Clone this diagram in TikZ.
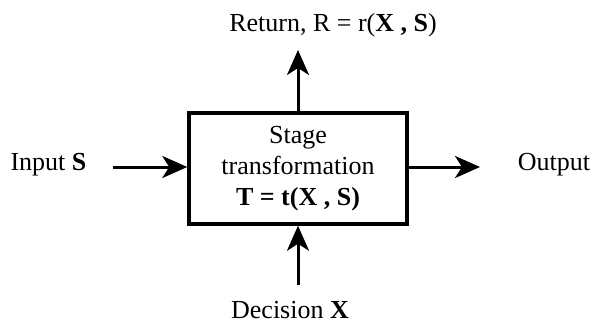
\documentclass[tikz,border=0pt]{standalone}
\usepackage{fontspec}
\setmainfont{Liberation Serif}
\usetikzlibrary{arrows.meta}
\begin{document}
\begin{tikzpicture}[x=1pt,y=-1pt,
  lbl/.style={font=\fontsize{26}{31}\selectfont, inner sep=0pt},
  flow/.style={line width=3pt, -{Stealth[length=25pt,width=22pt,inset=7pt]}},
  stagebox/.style={draw, line width=3.5pt, minimum width=218pt, minimum height=111pt,
    align=center, font=\fontsize{26}{31}\selectfont, inner sep=0pt}]
  \useasboundingbox (0,0) rectangle (591,325);
  \node[stagebox] (box) at (298,168.5) {Stage\\transformation\\\textbf{T = t(X , S)}};
  \node[lbl] (in) at (48.5,165) {Input \textbf{S}};
  \node[lbl] (out) at (554,165) {Output};
  \node[lbl] (ret) at (333,25) {Return, R = r(\textbf{X , S})};
  \node[lbl] (dec) at (290,310) {Decision \textbf{X}};
  \coordinate (inS) at (113,167);
  \coordinate (outE) at (480,167);
  \coordinate (retE) at (298,50);
  \coordinate (decS) at (298,285);
  \draw[flow] (inS) -- (inS -| box.west);
  \draw[flow] (outE -| box.east) -- (outE);
  \draw[flow] (box.north) -- (retE);
  \draw[flow] (decS) -- (box.south);
\end{tikzpicture}
\end{document}
